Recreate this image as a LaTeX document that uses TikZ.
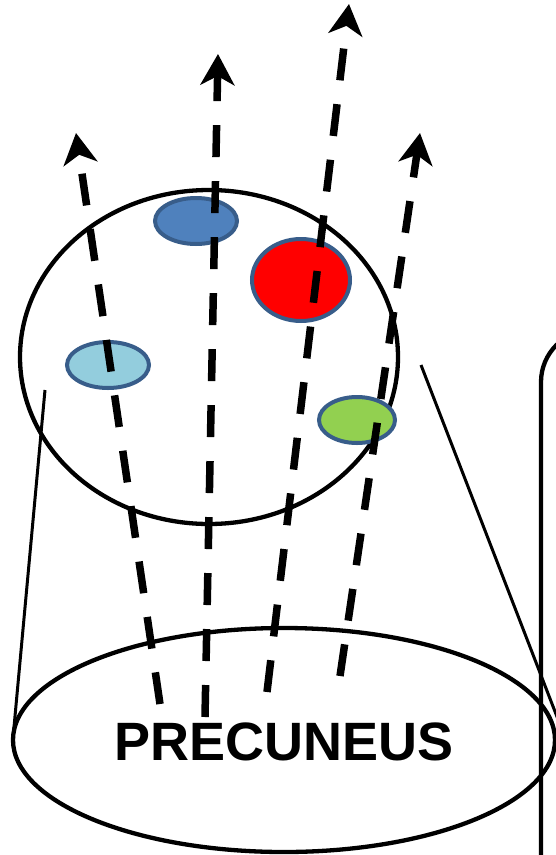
\documentclass[tikz,border=0pt]{standalone}
\usepackage{fontspec}
\setmainfont{Liberation Sans}
\usetikzlibrary{arrows.meta,shapes.geometric}
\definecolor{spotblue}{HTML}{4F81BD}
\definecolor{spotedge}{HTML}{385D8A}
\definecolor{spotcyan}{HTML}{93CDDD}
\definecolor{spotgreen}{HTML}{92D050}
\definecolor{spotred}{HTML}{FF0000}
\tikzset{
  outline/.style={draw=black, line width=4.3pt},
  spot/.style={ellipse, draw=spotedge, line width=4pt, inner sep=0pt},
  guide/.style={draw=black, line width=3pt},
  flow/.style={line width=7.5pt, dash pattern=on 32pt off 24pt,
    -{Stealth[length=31pt, width=34pt, inset=9pt]}},
}
\begin{document}
\begin{tikzpicture}[x=1pt, y=-1pt]
  \useasboundingbox (0,0) rectangle (556,855);
  \clip (0,0) rectangle (556,855);

  % rounded panel leaving the frame on the right
  \draw[outline, rounded corners=52pt] (541,330) rectangle (760,920);

  % base of the cone and the enlarged cross-section above it
  \node[outline, ellipse, minimum width=542pt, minimum height=224pt, inner sep=0pt] (base) at (284,740) {};
  \node[outline, ellipse, minimum width=378pt, minimum height=334pt, inner sep=0pt] (section) at (209,357) {};
  \node[font=\bfseries\fontsize{54}{60}\selectfont] (label) at (284,742) {PRECUNEUS};

  % cone sides
  \coordinate (lt) at (45,390);
  \coordinate (lb) at (13,738);
  \coordinate (rt) at (421,365);
  \coordinate (rb) at (566,740);
  \draw[guide] (lt) -- (lb);
  \draw[guide] (rt) -- (rb);

  % coloured regions inside the section
  \node[spot, fill=spotblue, minimum width=82pt, minimum height=46pt] (s1) at (196,221) {};
  \node[spot, fill=spotred, minimum width=98pt, minimum height=82pt] (s2) at (301,280) {};
  \node[spot, fill=spotcyan, minimum width=82pt, minimum height=46pt] (s3) at (108,365) {};
  \node[spot, fill=spotgreen, minimum width=76pt, minimum height=46pt] (s4) at (357,420) {};

  % projections leaving the base
  \coordinate (a1s) at (160,704);
  \coordinate (a1e) at (76,133);
  \coordinate (a2s) at (205,717);
  \coordinate (a2e) at (218,54);
  \coordinate (a3s) at (267,692);
  \coordinate (a3e) at (349,4);
  \coordinate (a4s) at (340,676);
  \coordinate (a4e) at (420,133);
  \draw[flow] (a1s) -- (a1e);
  \draw[flow] (a2s) -- (a2e);
  \draw[flow] (a3s) -- (a3e);
  \draw[flow] (a4s) -- (a4e);
\end{tikzpicture}
\end{document}
